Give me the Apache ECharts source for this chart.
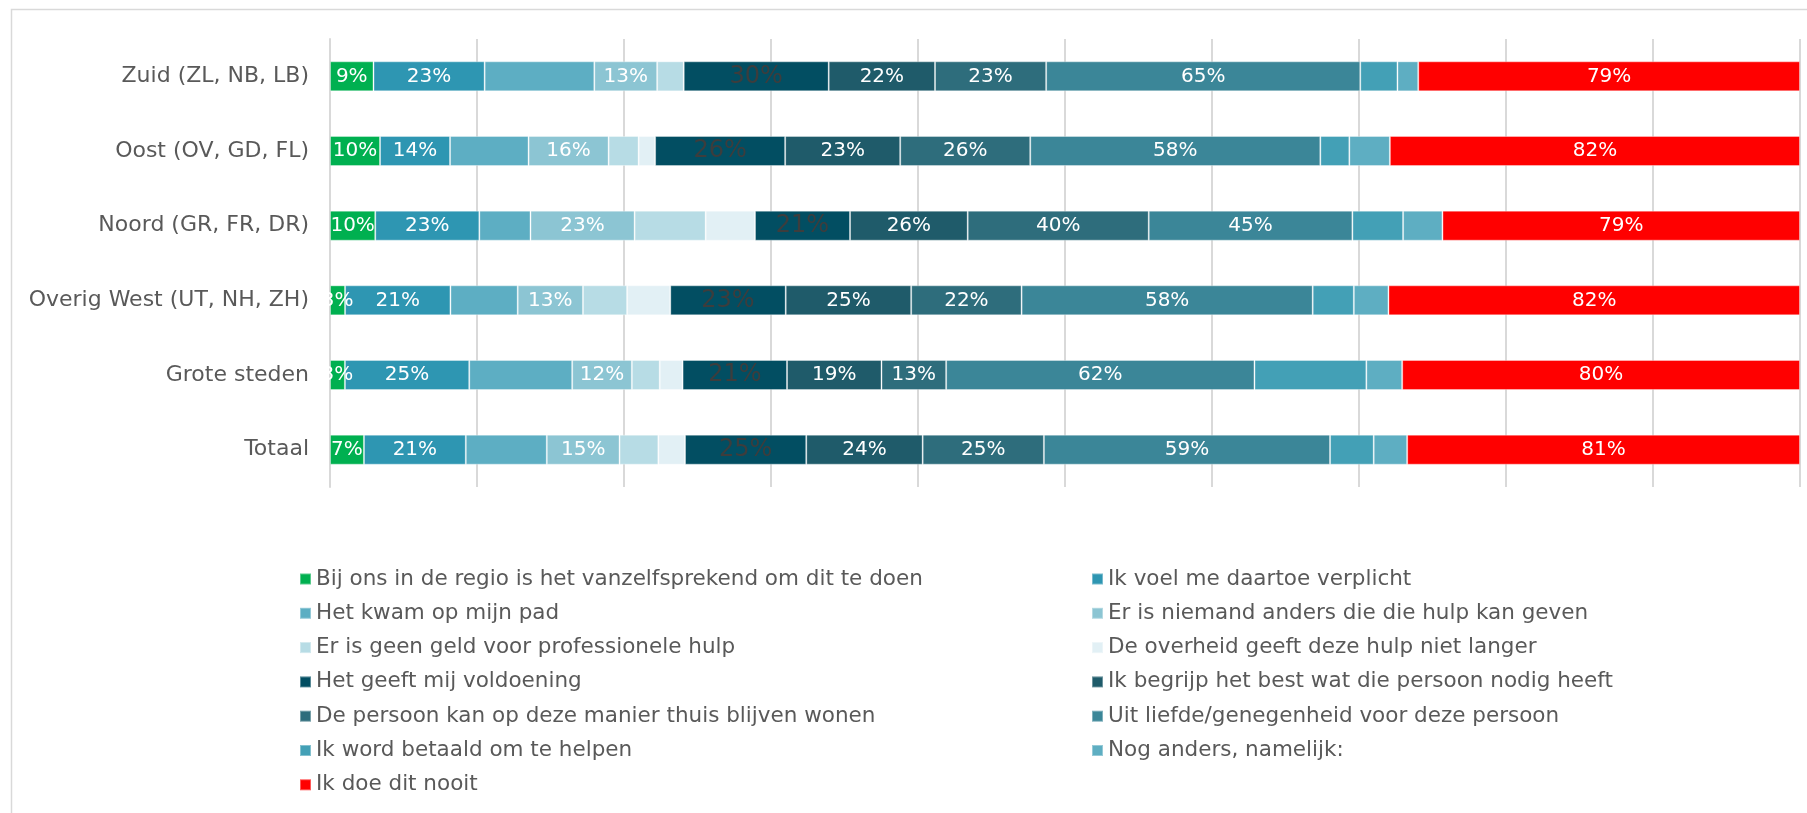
<!DOCTYPE html>
<html>
<head>
<meta charset="utf-8">
<script src="https://cdn.jsdelivr.net/npm/echarts@6/dist/echarts.min.js"></script>
<style>
  html, body { margin: 0; padding: 0; background: #ffffff; }
  #chart { width: 1807px; height: 813px; }
</style>
</head>
<body>
<div id="chart"></div>
<script>
// Categories (top to bottom)
var categories = ['Zuid (ZL, NB, LB)', 'Oost (OV, GD, FL)', 'Noord (GR, FR, DR)', 'Overig West (UT, NH, ZH)', 'Grote steden', 'Totaal'];

// Series names (legend texts)
var seriesNames = [
  'Bij ons in de regio is het vanzelfsprekend om dit te doen',
  'Ik voel me daartoe verplicht',
  'Het kwam op mijn pad',
  'Er is niemand anders die die hulp kan geven',
  'Er is geen geld voor professionele hulp',
  'De overheid geeft deze hulp niet langer',
  'Het geeft mij voldoening',
  'Ik begrijp het best wat die persoon nodig heeft',
  'De persoon kan op deze manier thuis blijven wonen',
  'Uit liefde/genegenheid voor deze persoon',
  'Ik word betaald om te helpen',
  'Nog anders, namelijk:',
  'Ik doe dit nooit'
];

// Raw percentages per series, in category order
var vanzelfsprekend = [9, 10, 10, 3, 3, 7];
var verplicht       = [23, 14, 23, 21, 25, 21];
var kwamOpPad       = [22.7, 15.7, 11.3, 13.4, 20.7, 16.7];
var niemandAnders   = [13, 16, 23, 13, 12, 15];
var geenGeld        = [5.5, 6.0, 15.7, 8.8, 5.6, 8.0];
var overheid        = [0, 3.3, 10.9, 8.6, 4.6, 5.5];
var voldoening      = [30, 26, 21, 23, 21, 25];
var begrijp         = [22, 23, 26, 25, 19, 24];
var thuisWonen      = [23, 26, 40, 22, 13, 25];
var liefde          = [65, 58, 45, 58, 62, 59];
var betaald         = [7.7, 5.8, 11.2, 8.2, 22.5, 9.0];
var nogAnders       = [4.3, 8.1, 8.7, 6.9, 7.2, 6.9];
var nooit           = [79, 82, 79, 82, 80, 81];

var seriesValues = [vanzelfsprekend, verplicht, kwamOpPad, niemandAnders, geenGeld, overheid,
  voldoening, begrijp, thuisWonen, liefde, betaald, nogAnders, nooit];

var colors = ['#00B050', '#2E96B2', '#5DAEC3', '#8CC5D3', '#B7DCE5', '#E2F0F5',
  '#024E62', '#1F5B6A', '#2E6D7C', '#3B8698', '#43A0B6', '#5EAEC2', '#FF0000'];

// Which series carry data labels
var labelled = [true, true, false, true, false, false, true, true, true, true, false, false, true];

// Row totals (the chart is a 100% stacked bar)
var rowTotals = categories.map(function (c, i) {
  var s = 0;
  seriesValues.forEach(function (arr) { s += arr[i]; });
  return s;
});

var series = seriesValues.map(function (arr, si) {
  var isVold = si === 6;
  return {
    name: seriesNames[si],
    type: 'bar',
    stack: 'total',
    barWidth: 30,
    itemStyle: { color: colors[si], borderColor: 'rgba(255,255,255,0.35)', borderWidth: 1 },
    label: {
      show: labelled[si],
      position: 'inside',
      color: isVold ? '#3D3D3D' : '#FFFFFF',
      fontSize: isVold ? 24 : 20,
      fontFamily: 'DejaVu Sans',
      formatter: function (p) { return Math.round(p.data.raw) + '%'; }
    },
    data: arr.map(function (v, i) {
      return { value: v / rowTotals[i] * 100, raw: v };
    })
  };
});

var leftNames = [0, 2, 4, 6, 8, 10, 12].map(function (i) { return seriesNames[i]; });
var rightNames = [1, 3, 5, 7, 9, 11].map(function (i) { return seriesNames[i]; });

function legendCfg(left, names) {
  return {
    orient: 'vertical',
    left: left,
    top: 567,
    padding: 0,
    itemWidth: 11,
    itemHeight: 11,
    itemGap: 10.3,
    icon: 'rect',
    selectedMode: false,
    textStyle: { fontSize: 21.5, color: '#595959', fontFamily: 'DejaVu Sans', lineHeight: 24 },
    data: names
  };
}

var chart = echarts.init(document.getElementById('chart'), null, { renderer: 'canvas' });
chart.setOption({
  animation: false,
  backgroundColor: '#ffffff',
  color: colors,
  graphic: [{
    type: 'rect', silent: true, z: -10,
    shape: { x: 11.5, y: 9.5, width: 1830, height: 840 },
    style: { fill: 'none', stroke: '#D9D9D9', lineWidth: 1.5 }
  }],
  grid: { left: 330, right: 7, top: 39, height: 448, containLabel: false },
  xAxis: {
    type: 'value', min: 0, max: 100, interval: 10,
    axisLabel: { show: false }, axisLine: { show: false }, axisTick: { show: false },
    splitLine: { show: true, lineStyle: { color: '#D9D9D9', width: 2 } }
  },
  yAxis: {
    type: 'category', data: categories, inverse: true,
    axisLine: { show: true, lineStyle: { color: '#D9D9D9', width: 2 } },
    axisTick: { show: false },
    axisLabel: { color: '#595959', fontSize: 22, fontFamily: 'DejaVu Sans', margin: 21 }
  },
  legend: [legendCfg(299, leftNames), legendCfg(1091, rightNames)],
  series: series
});
</script>
</body>
</html>
